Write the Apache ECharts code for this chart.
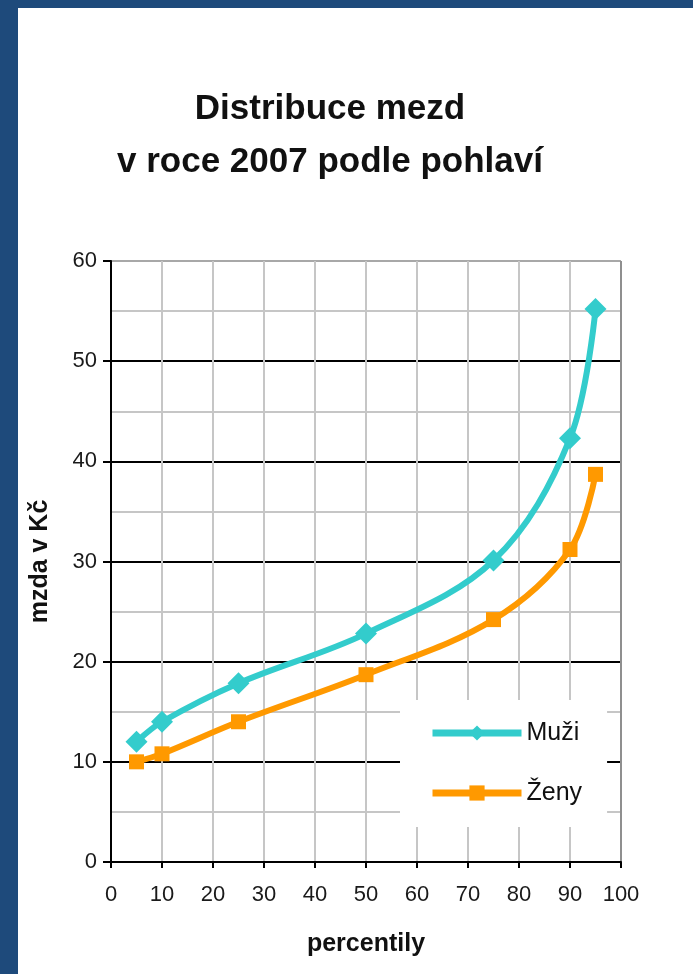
<!DOCTYPE html>
<html>
<head>
<meta charset="utf-8">
<script src="https://cdn.jsdelivr.net/npm/echarts@6/dist/echarts.min.js"></script>
<style>
    html, body { margin: 0; padding: 0; background: #1e4a7b; }
    #chart { position: absolute; left: 18px; top: 8px; width: 675px; height: 966px; background: #fff; }
</style>
</head>
<body>
<div id="chart"></div>
<script>
// percentiles and wages (thousands Kč)
const percentiles = [5, 10, 25, 50, 75, 90, 95];
const muzi = [12.0, 14.0, 17.85, 22.8, 30.1, 42.3, 55.2];
const zeny = [10.0, 10.8, 14.0, 18.7, 24.2, 31.2, 38.7];
const seriesNames = ['Muži', 'Ženy'];

function pairs(xs, ys) {
    return xs.map(function (x, i) { return [x, ys[i]]; });
}

let chart = echarts.init(document.getElementById('chart'));
let option;

option = {
    animation: false,
    textStyle: { fontFamily: 'Liberation Sans, Arial, sans-serif' },
    title: {
        text: 'Distribuce mezd\nv roce 2007 podle pohlaví',
        left: 307,
        top: 70,
        textAlign: 'center',
        textStyle: {
            fontFamily: 'Liberation Sans, Arial, sans-serif',
            fontSize: 35,
            fontWeight: 'bold',
            lineHeight: 53,
            color: '#111'
        }
    },
    legend: {
        orient: 'vertical',
        left: 382,
        top: 692,
        backgroundColor: '#fff',
        padding: [20, 25, 21, 29],
        itemWidth: 89,
        itemHeight: 19,
        itemGap: 34,
        lineStyle: { width: 7 },
        textStyle: { fontSize: 25, lineHeight: 26, color: '#111' },
        data: seriesNames
    },
    grid: {
        left: 93,
        top: 253,
        right: 72,
        bottom: 112
    },
    xAxis: {
        type: 'value',
        min: 0,
        max: 100,
        interval: 10,
        name: 'percentily',
        nameLocation: 'middle',
        nameGap: 70,
        nameTextStyle: { fontSize: 25, fontWeight: 'bold', color: '#111' },
        axisLine: { lineStyle: { color: '#000', width: 2 } },
        axisTick: { show: true, inside: false, length: 6, lineStyle: { color: '#000', width: 2 } },
        axisLabel: { fontSize: 22, color: '#1a1a1a', margin: 22 },
        splitLine: {
            show: true,
            lineStyle: {
                width: 2,
                color: ['#c6c6c6', '#c6c6c6', '#c6c6c6', '#c6c6c6', '#c6c6c6', '#c6c6c6',
                        '#c6c6c6', '#c6c6c6', '#c6c6c6', '#c6c6c6', '#8f8f8f']
            }
        }
    },
    yAxis: {
        type: 'value',
        min: 0,
        max: 60,
        interval: 10,
        name: 'mzda v Kč',
        nameLocation: 'middle',
        nameRotate: 90,
        nameGap: 58,
        nameTextStyle: { fontSize: 25, fontWeight: 'bold', color: '#111' },
        axisLine: { show: true, lineStyle: { color: '#000', width: 2 } },
        axisTick: { show: true, inside: false, length: 8, lineStyle: { color: '#000', width: 2 } },
        axisLabel: { fontSize: 22, color: '#1a1a1a', margin: 14 },
        splitLine: {
            show: true,
            lineStyle: {
                width: 2,
                color: ['#000', '#000', '#000', '#000', '#000', '#000', '#a8a8a8']
            }
        },
        minorTick: { show: false, splitNumber: 2 },
        minorSplitLine: { show: true, lineStyle: { color: '#c6c6c6', width: 2 } }
    },
    series: [
        {
            name: seriesNames[0],
            type: 'line',
            smooth: 0.35,
            symbol: 'diamond',
            symbolSize: 22,
            color: '#33cccc',
            lineStyle: { width: 6 },
            data: pairs(percentiles, muzi)
        },
        {
            name: seriesNames[1],
            type: 'line',
            smooth: 0.35,
            symbol: 'rect',
            symbolSize: 15,
            color: '#ff9900',
            lineStyle: { width: 6 },
            data: pairs(percentiles, zeny)
        }
    ]
};

option && chart.setOption(option);
</script>
</body>
</html>
